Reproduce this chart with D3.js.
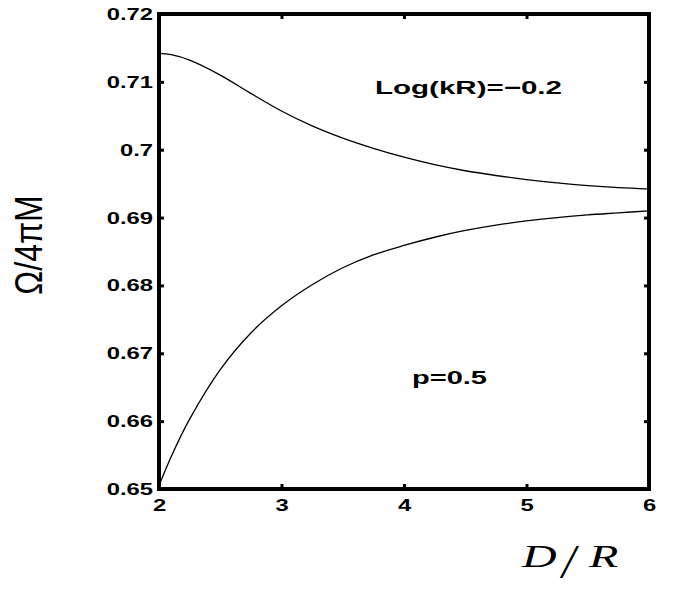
<!DOCTYPE html>
<html>
<head>
<meta charset="utf-8">
<script src="https://cdn.jsdelivr.net/npm/d3@7"></script>
<style>
  body { margin: 0; background: #fff; }
  svg { display: block; }
  .tick text { font-family: "Liberation Sans", Arial, sans-serif; font-weight: bold; font-size: 17px; }
</style>
</head>
<body>
<div id="chart"></div>
<script>
// D/R values along the x axis
var xValues = [2.0, 2.1, 2.25, 2.5, 2.75, 3.0, 3.25, 3.5, 3.75, 4.0, 4.25, 4.5, 4.75, 5.0, 5.25, 5.5, 5.75, 6.0];

// upper curve (Omega / 4 pi M)
var upperValues = [0.7142, 0.7140, 0.7132, 0.7110, 0.7083, 0.7057, 0.7035, 0.7017, 0.7002, 0.6989, 0.6978, 0.6969, 0.6962, 0.6956, 0.6951, 0.6947, 0.6944, 0.6942];

// lower curve
var lowerValues = [0.6505, 0.6548, 0.6603, 0.6676, 0.6730, 0.6770, 0.6801, 0.6826, 0.6845, 0.6859, 0.6871, 0.6881, 0.6889, 0.6895, 0.6900, 0.6904, 0.6907, 0.6910];

var xTicks = [2, 3, 4, 5, 6];
var yTicks = [0.65, 0.66, 0.67, 0.68, 0.69, 0.7, 0.71, 0.72];

var width = 678,
    height = 591,
    margin = {top: 14, right: 29, bottom: 102, left: 159};

var svg = d3.select("#chart").append("svg")
    .attr("width", width)
    .attr("height", height);

var x = d3.scaleLinear().domain([2, 6]).range([margin.left, width - margin.right]);
var y = d3.scaleLinear().domain([0.65, 0.72]).range([height - margin.bottom, margin.top]);

// inward ticks on every side, labels only left and bottom
var tickLen = 5;
function styleAxis(g) {
    g.select(".domain").remove();
    g.selectAll(".tick line").attr("stroke", "#000").attr("stroke-width", 3);
}

var xAxisG = svg.append("g")
    .attr("transform", "translate(0," + y(0.65) + ")")
    .call(d3.axisBottom(x).tickValues(xTicks).tickSizeInner(-tickLen).tickSizeOuter(0).tickPadding(10)
        .tickFormat(d3.format("d")))
    .call(styleAxis);

svg.append("g")
    .attr("transform", "translate(0," + y(0.72) + ")")
    .call(d3.axisTop(x).tickValues(xTicks).tickSizeInner(-tickLen).tickSizeOuter(0).tickFormat(""))
    .call(styleAxis);

var yAxisG = svg.append("g")
    .attr("transform", "translate(" + x(2) + ",0)")
    .call(d3.axisLeft(y).tickValues(yTicks).tickSizeInner(-tickLen).tickSizeOuter(0)
        .tickFormat(function(d) { return String(+d.toFixed(2)); }))
    .call(styleAxis);

svg.append("g")
    .attr("transform", "translate(" + x(6) + ",0)")
    .call(d3.axisRight(y).tickValues(yTicks).tickSizeInner(-tickLen).tickSizeOuter(0).tickFormat(""))
    .call(styleAxis);

// the original figure's labels are stretched sideways
xAxisG.selectAll(".tick text")
    .attr("fill", "#000")
    .attr("transform", "scale(1.4,1)");
yAxisG.selectAll(".tick text")
    .attr("fill", "#000")
    .attr("x", 0)
    .attr("transform", "translate(-6,0) scale(1.4,1)");

// frame
svg.append("rect")
    .attr("x", x(2))
    .attr("y", y(0.72))
    .attr("width", x(6) - x(2))
    .attr("height", y(0.65) - y(0.72))
    .attr("fill", "none")
    .attr("stroke", "#000")
    .attr("stroke-width", 4);

var line = d3.line()
    .x(function(d) { return x(d[0]); })
    .y(function(d) { return y(d[1]); })
    .curve(d3.curveCatmullRom.alpha(0.5));

[upperValues, lowerValues].forEach(function(vals) {
    svg.append("path")
        .datum(xValues.map(function(v, i) { return [v, vals[i]]; }))
        .attr("d", line)
        .attr("fill", "none")
        .attr("stroke", "#000")
        .attr("stroke-width", 1.3);
});

// annotations
svg.append("text")
    .attr("x", 375)
    .attr("y", 94)
    .attr("textLength", 187)
    .attr("lengthAdjust", "spacingAndGlyphs")
    .style("font-family", "Liberation Sans, Arial, sans-serif")
    .style("font-weight", "bold")
    .style("font-size", "19px")
    .text("Log(kR)=\u22120.2");

svg.append("text")
    .attr("x", 412)
    .attr("y", 384)
    .attr("textLength", 75)
    .attr("lengthAdjust", "spacingAndGlyphs")
    .style("font-family", "Liberation Sans, Arial, sans-serif")
    .style("font-weight", "bold")
    .style("font-size", "18px")
    .text("p=0.5");

// axis titles
svg.append("text")
    .attr("transform", "translate(42,245) rotate(-90) scale(1,1.2)")
    .attr("text-anchor", "middle")
    .style("font-family", "Liberation Sans, Arial, sans-serif")
    .style("font-size", "32px")
    .text("\u03A9/4\u03C0M");

var serif = "Liberation Serif, serif";
svg.append("text")
    .attr("transform", "translate(522,567) scale(1.5,1)")
    .style("font-family", serif).style("font-style", "italic").style("font-size", "32px")
    .text("D");
svg.append("text")
    .attr("x", 562)
    .attr("y", 578)
    .style("font-family", serif).style("font-style", "italic").style("font-size", "48px")
    .text("/");
svg.append("text")
    .attr("transform", "translate(589,567) scale(1.5,1)")
    .style("font-family", serif).style("font-style", "italic").style("font-size", "32px")
    .text("R");
</script>
</body>
</html>
